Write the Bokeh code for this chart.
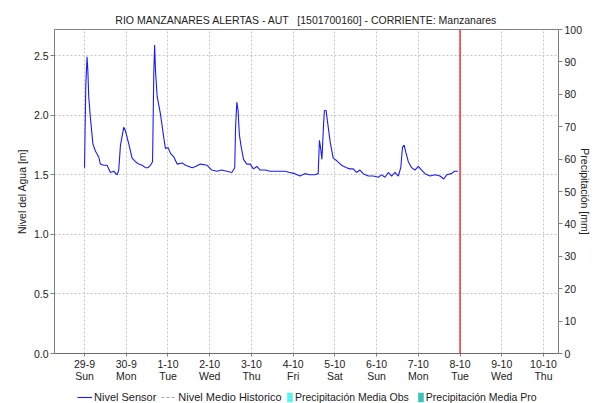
from bokeh.plotting import figure
from bokeh.layouts import column
from bokeh.models import (Range1d, LinearAxis, FixedTicker, Span, Legend, LegendItem,
                          Title, PrintfTickFormatter)
from bokeh.embed import file_html
from bokeh.resources import INLINE

# ---- data (days since 29-9 00:00, level in m) ----
day_offset = [0.00, 0.01, 0.03, 0.06, 0.08, 0.10, 0.14, 0.20, 0.26, 0.34, 0.38, 0.46, 0.54, 0.62,
              0.70, 0.78, 0.82, 0.86, 0.94, 0.98, 1.06, 1.14, 1.22, 1.30, 1.38, 1.46, 1.52, 1.58,
              1.63, 1.66, 1.68, 1.70, 1.74, 1.82, 1.90, 1.94, 2.00, 2.06, 2.14, 2.22, 2.34, 2.42,
              2.50, 2.58, 2.66, 2.78, 2.94, 3.05, 3.17, 3.29, 3.41, 3.53, 3.60, 3.62, 3.65, 3.68,
              3.71, 3.75, 3.81, 3.89, 3.97, 4.05, 4.13, 4.21, 4.33, 4.45, 4.57, 4.69, 4.80, 4.92,
              5.04, 5.16, 5.28, 5.40, 5.52, 5.60, 5.63, 5.66, 5.69, 5.73, 5.75, 5.79, 5.82, 5.89,
              5.96, 6.04, 6.10, 6.16, 6.28, 6.36, 6.44, 6.52, 6.60, 6.68, 6.80, 6.92, 7.04, 7.12,
              7.20, 7.28, 7.36, 7.44, 7.52, 7.58, 7.62, 7.66, 7.70, 7.76, 7.84, 7.92, 8.00, 8.08,
              8.16, 8.28, 8.40, 8.52, 8.61, 8.68, 8.79, 8.87, 8.95]
nivel_sensor = [1.56, 1.80, 2.25, 2.49, 2.37, 2.16, 1.98, 1.76, 1.70, 1.65, 1.59, 1.58, 1.58, 1.52,
                1.53, 1.50, 1.54, 1.745, 1.90, 1.87, 1.76, 1.64, 1.61, 1.59, 1.58, 1.56, 1.56, 1.58,
                1.61, 2.35, 2.59, 2.38, 2.16, 2.01, 1.81, 1.72, 1.73, 1.68, 1.65, 1.59, 1.60, 1.58,
                1.57, 1.56, 1.57, 1.59, 1.58, 1.54, 1.53, 1.54, 1.53, 1.52, 1.56, 1.90, 2.11, 2.04,
                1.84, 1.745, 1.63, 1.59, 1.59, 1.55, 1.57, 1.54, 1.54, 1.53, 1.53, 1.53, 1.53, 1.52,
                1.51, 1.49, 1.51, 1.50, 1.50, 1.51, 1.79, 1.72, 1.63, 1.93, 2.04, 2.04, 1.955, 1.77,
                1.64, 1.62, 1.60, 1.58, 1.56, 1.55, 1.55, 1.52, 1.54, 1.51, 1.49, 1.49, 1.48, 1.50,
                1.48, 1.52, 1.49, 1.52, 1.49, 1.56, 1.73, 1.75, 1.69, 1.61, 1.56, 1.54, 1.57, 1.54,
                1.51, 1.49, 1.50, 1.49, 1.465, 1.50, 1.51, 1.53, 1.53]
hist_days = []
nivel_medio_historico = []
precip_days = []
precip_media_obs = []
precip_media_pro = []

tick_days = [0, 1, 2, 3, 4, 5, 6, 7, 8, 9, 10, 11]
tick_dates = ["29-9", "30-9", "1-10", "2-10", "3-10", "4-10", "5-10", "6-10", "7-10", "8-10", "9-10", "10-10"]
tick_weekdays = ["Sun", "Mon", "Tue", "Wed", "Thu", "Fri", "Sat", "Sun", "Mon", "Tue", "Wed", "Thu"]
level_ticks = [0.0, 0.5, 1.0, 1.5, 2.0, 2.5]
precip_ticks = [0, 10, 20, 30, 40, 50, 60, 70, 80, 90, 100]
now_day = 9

FONT = "Liberation Sans"
FS = "10.5px"
TXT = "#222222"
AX = "#808080"
C_SENSOR = "#1a1aff"
C_HIST = "#a8a8a8"
C_OBS = "#5cf2f2"
C_PRO = "#3cc2bc"

p = figure(width=594, height=387, output_backend="svg", toolbar_location=None,
           x_range=Range1d(-0.72, 11.36), y_range=Range1d(0, 2.72),
           min_border_left=54, min_border_right=35, min_border_top=29, min_border_bottom=34,
           background_fill_color="white", border_fill_color="white")
p.title = Title(text="RIO MANZANARES ALERTAS - AUT \u00a0 [1501700160] - CORRIENTE: Manzanares",
                align="center", text_font=FONT, text_font_size=FS, text_font_style="normal",
                text_color=TXT, standoff=7)
p.outline_line_color = AX

# grids
p.xgrid.ticker = FixedTicker(ticks=tick_days)
p.ygrid.ticker = FixedTicker(ticks=level_ticks)
for g in (p.xgrid, p.ygrid):
    g.grid_line_color = "#c4c4c4"
    g.grid_line_dash = "2 2"
    g.grid_line_width = 1

# x axis
xa = p.xaxis[0]
xa.ticker = FixedTicker(ticks=tick_days)
xa.major_label_overrides = {d: f"{a}\n{b}" for d, a, b in zip(tick_days, tick_dates, tick_weekdays)}
xa.major_label_text_font = FONT
xa.major_label_text_font_size = FS
xa.major_label_text_color = TXT
xa.major_label_text_line_height = 1.0
xa.major_label_standoff = 1
xa.major_tick_in = 0
xa.major_tick_out = 3
xa.minor_tick_out = 0
xa.minor_tick_in = 0
xa.major_tick_line_color = AX
xa.axis_line_color = "#555555"
xa.axis_line_dash = "1 1"

# left axis
ya = p.yaxis[0]
ya.ticker = FixedTicker(ticks=level_ticks)
ya.formatter = PrintfTickFormatter(format="%.1f")
ya.axis_label = "Nivel del Agua [m]"
ya.axis_label_text_font = FONT
ya.axis_label_text_font_size = FS
ya.axis_label_text_font_style = "normal"
ya.axis_label_text_color = TXT
ya.axis_label_standoff = 3
ya.major_label_text_font = FONT
ya.major_label_text_font_size = FS
ya.major_label_text_color = TXT
ya.major_label_standoff = 2
ya.major_tick_in = 0
ya.major_tick_out = 4
ya.minor_tick_out = 0
ya.minor_tick_in = 0
ya.major_tick_line_color = AX
ya.axis_line_color = AX

# right axis
p.extra_y_ranges = {"precip": Range1d(0, 100)}
ra = LinearAxis(y_range_name="precip", axis_label="Precipitación [mm]",
                ticker=FixedTicker(ticks=precip_ticks))
ra.axis_label_text_font = FONT
ra.axis_label_text_font_size = FS
ra.axis_label_text_font_style = "normal"
ra.axis_label_text_color = TXT
ra.axis_label_standoff = -6
ra.major_label_text_font = FONT
ra.major_label_text_font_size = FS
ra.major_label_text_color = TXT
ra.major_label_standoff = 2
ra.major_tick_in = 0
ra.major_tick_out = 4
ra.minor_tick_out = 0
ra.minor_tick_in = 0
ra.major_tick_line_color = AX
ra.axis_line_color = AX
p.add_layout(ra, "right")

# data
p.line(day_offset, nivel_sensor, line_color=C_SENSOR, line_width=1.1)
p.line(hist_days, nivel_medio_historico, line_color=C_HIST, line_dash="2 2", line_width=1)
p.vbar(x=precip_days, top=precip_media_obs, width=0.1, y_range_name="precip",
       fill_color=C_OBS, line_color=None)
p.vbar(x=precip_days, top=precip_media_pro, width=0.1, y_range_name="precip",
       fill_color=C_PRO, line_color=None)

p.add_layout(Span(location=now_day, dimension="height", line_color="#ff0000", line_width=1.2))

# ---- legend strip below the chart (its frame aligns with the chart frame) ----
lg = figure(width=594, height=16, output_backend="svg", toolbar_location=None,
            x_axis_location=None, y_axis_location=None, min_border=0,
            x_range=Range1d(0, 1), y_range=Range1d(0, 1),
            background_fill_color="white", border_fill_color="white")
lg.outline_line_color = None
lg.grid.visible = False
placeholder = [float("nan")]   # keys only: nothing is drawn in the strip itself
l_sensor = lg.line(x=placeholder, y=placeholder, line_color=C_SENSOR, line_width=1.1)
l_hist = lg.line(x=placeholder, y=placeholder, line_color=C_HIST, line_dash="3 2", line_width=1)
l_obs = lg.vbar(x=placeholder, top=placeholder, width=0.1, fill_color=C_OBS, line_color=None)
l_pro = lg.vbar(x=placeholder, top=placeholder, width=0.1, fill_color=C_PRO, line_color=None)

common = dict(orientation="horizontal", border_line_color=None, background_fill_alpha=0,
              label_text_font=FONT, label_text_color=TXT,
              padding=0, margin=0, label_standoff=2, label_height=12)
leg1 = Legend(items=[LegendItem(label="Nivel Sensor", renderers=[l_sensor]),
                     LegendItem(label="Nivel Medio Historico", renderers=[l_hist])],
              location=(23, 0), glyph_width=15, glyph_height=10, spacing=5,
              label_text_font_size="11px", **common)
leg2 = Legend(items=[LegendItem(label="Precipitación Media Obs", renderers=[l_obs]),
                     LegendItem(label="Precipitación Media Pro", renderers=[l_pro])],
              location=(232, 0), glyph_width=7, glyph_height=12, spacing=8,
              label_text_font_size="10.5px", **common)
lg.add_layout(leg1, "center")
lg.add_layout(leg2, "center")

page = column(p, lg, spacing=0)
open("out.html", "w").write(file_html(page, INLINE))
